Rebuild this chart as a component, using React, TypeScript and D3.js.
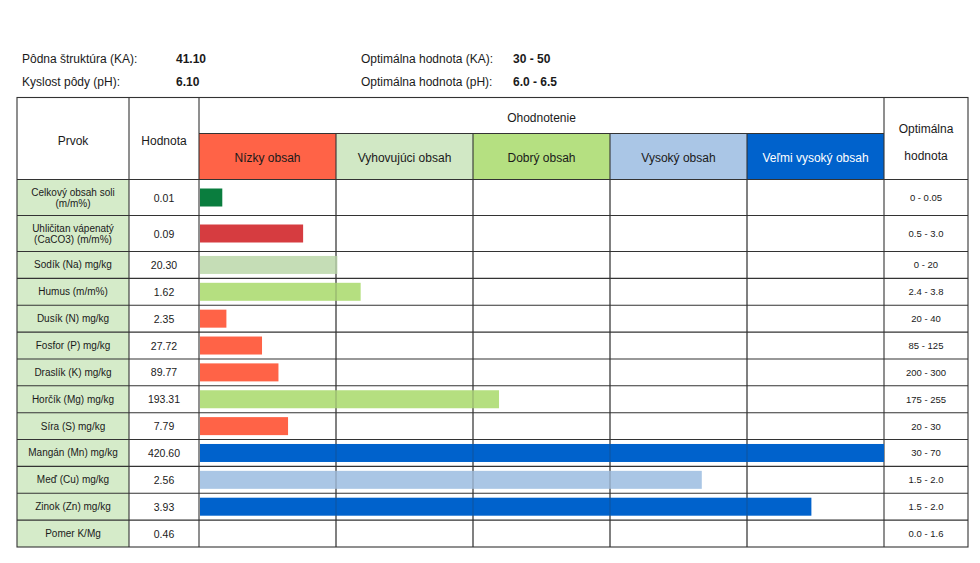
import React from "react";
import * as d3 from "d3";

const infoLabels = ["Pôdna štruktúra (KA):", "Kyslost pôdy (pH):"];
const infoValues = ["41.10", "6.10"];
const optimumLabels = ["Optimálna hodnota (KA):", "Optimálna hodnota (pH):"];
const optimumValues = ["30 - 50", "6.0 - 6.5"];

const categories = ["Nízky obsah", "Vyhovujúci obsah", "Dobrý obsah", "Vysoký obsah", "Veľmi vysoký obsah"];

const elements: string[][] = [
  ["Celkový obsah soli", "(m/m%)"],
  ["Uhličitan vápenatý", "(CaCO3) (m/m%)"],
  ["Sodík (Na) mg/kg"],
  ["Humus (m/m%)"],
  ["Dusík (N) mg/kg"],
  ["Fosfor (P) mg/kg"],
  ["Draslík (K) mg/kg"],
  ["Horčík (Mg) mg/kg"],
  ["Síra (S) mg/kg"],
  ["Mangán (Mn) mg/kg"],
  ["Meď (Cu) mg/kg"],
  ["Zinok (Zn) mg/kg"],
  ["Pomer K/Mg"],
];
const values = [0.01, 0.09, 20.3, 1.62, 2.35, 27.72, 89.77, 193.31, 7.79, 420.6, 2.56, 3.93, 0.46];
// bar end position on the rating scale (0 = start of "Nízky", 5 = end of "Veľmi vysoký")
const scores = [0.17, 0.76, 1.01, 1.18, 0.2, 0.46, 0.58, 2.19, 0.65, 5.0, 3.67, 4.47, 0];
const ratings = ["vyhovuje", "nevyhovuje", "Vyhovujúci obsah", "Dobrý obsah", "Nízky obsah", "Nízky obsah", "Nízky obsah", "Dobrý obsah", "Nízky obsah", "Veľmi vysoký obsah", "Vysoký obsah", "Veľmi vysoký obsah", "none"];
const optimal = ["0 - 0.05", "0.5 - 3.0", "0 - 20", "2.4 - 3.8", "20 - 40", "85 - 125", "200 - 300", "175 - 255", "20 - 30", "30 - 70", "1.5 - 2.0", "1.5 - 2.0", "0.0 - 1.6"];

const headerColors: Record<string, string> = {
  "Nízky obsah": "#FF6347",
  "Vyhovujúci obsah": "#D1E8C5",
  "Dobrý obsah": "#B5E081",
  "Vysoký obsah": "#AAC6E6",
  "Veľmi vysoký obsah": "#0062CC",
};
const barColors: Record<string, string> = {
  vyhovuje: "#0A7D3E",
  nevyhovuje: "#D63C40",
  "Nízky obsah": "#FF6347",
  "Vyhovujúci obsah": "#C5DDB6",
  "Dobrý obsah": "#B5DF80",
  "Vysoký obsah": "#AAC6E5",
  "Veľmi vysoký obsah": "#0062CC",
  none: "none",
};

const FONT = "'Liberation Sans', Arial, sans-serif";
const LINE = "#333";
const TEXT = "#1a1a1a";

export default function App() {
  const W = 980, H = 563;
  const tableLeft = 17, col1 = 129, col2 = 199, barRight = 884, tableRight = 968;
  const top = 97.5, hdrMid = 133.5, hdrBottom = 179.5, bottom = 547;

  const tall = 36;
  const nTall = elements.filter((e) => e.length > 1).length;
  const short = (bottom - hdrBottom - nTall * tall) / (elements.length - nTall);
  const heights = elements.map((e) => (e.length > 1 ? tall : short));
  const ys: number[] = [];
  heights.reduce((acc, h) => { ys.push(acc); return acc + h; }, hdrBottom);

  const xBand = d3.scaleBand<string>().domain(categories).range([col2, barRight]).padding(0);
  const x = d3.scaleLinear().domain([0, categories.length]).range([col2, barRight]);
  const barH = 18;

  const labelCx = (tableLeft + col1) / 2;
  const valueCx = (col1 + col2) / 2;
  const optCx = (barRight + tableRight) / 2;

  return (
    <svg width={W} height={H} style={{ position: "absolute", left: 0, top: 0, background: "#fff" }} fontFamily={FONT}>
      {/* info lines */}
      {infoLabels.map((l, i) => (
        <g key={l} fontSize={12} fill={TEXT}>
          <text x={22} y={63 + i * 23}>{l}</text>
          <text x={176} y={63 + i * 23} fontWeight="bold">{infoValues[i]}</text>
          <text x={361} y={63 + i * 23}>{optimumLabels[i]}</text>
          <text x={513} y={63 + i * 23} fontWeight="bold">{optimumValues[i]}</text>
        </g>
      ))}

      {/* category header cells */}
      {categories.map((c) => (
        <g key={c}>
          <rect x={xBand(c)} y={hdrMid} width={xBand.bandwidth()} height={hdrBottom - hdrMid} fill={headerColors[c]} />
          <text x={(xBand(c) as number) + xBand.bandwidth() / 2} y={162} textAnchor="middle" fontSize={12}
            fill={c === "Veľmi vysoký obsah" ? "#fff" : TEXT}>{c}</text>
        </g>
      ))}

      {/* label cells */}
      {elements.map((e, i) => (
        <rect key={"lc" + i} x={tableLeft} y={ys[i]} width={col1 - tableLeft} height={heights[i]} fill="#D5EBC9" />
      ))}

      {/* header texts */}
      <text x={labelCx} y={145} textAnchor="middle" fontSize={12} fill={TEXT}>Prvok</text>
      <text x={valueCx} y={145} textAnchor="middle" fontSize={12} fill={TEXT}>Hodnota</text>
      <text x={(col2 + barRight) / 2} y={122} textAnchor="middle" fontSize={12} fill={TEXT}>Ohodnotenie</text>
      <text x={optCx} y={133} textAnchor="middle" fontSize={12} fill={TEXT}>Optimálna</text>
      <text x={optCx} y={160} textAnchor="middle" fontSize={12} fill={TEXT}>hodnota</text>

      {/* grid lines */}
      <g stroke={LINE} strokeWidth={1.1} fill="none">
        <rect x={tableLeft} y={top} width={tableRight - tableLeft} height={bottom - top} />
        <line x1={col1} x2={col1} y1={top} y2={bottom} />
        <line x1={col2} x2={col2} y1={top} y2={bottom} />
        <line x1={barRight} x2={barRight} y1={top} y2={bottom} />
        <line x1={col2} x2={barRight} y1={hdrMid} y2={hdrMid} />
        {categories.slice(1).map((c) => (
          <line key={"v" + c} x1={xBand(c)} x2={xBand(c)} y1={hdrMid} y2={bottom} />
        ))}
        {ys.map((y, i) => (
          <line key={"h" + i} x1={tableLeft} x2={tableRight} y1={y} y2={y} />
        ))}
      </g>

      {/* bars */}
      {scores.map((s, i) =>
        s > 0 ? (
          <rect key={"b" + i} x={x(0) + 1} y={ys[i] + heights[i] / 2 - barH / 2} width={x(s) - x(0) - 1} height={barH}
            fill={barColors[ratings[i]]} />
        ) : null
      )}

      {/* faint category lines through bars */}
      <g stroke={LINE} strokeWidth={1} strokeOpacity={0.3}>
        {categories.slice(1).map((c) => (
          <line key={"o" + c} x1={xBand(c)} x2={xBand(c)} y1={hdrBottom} y2={bottom} />
        ))}
      </g>

      {/* row texts */}
      {elements.map((e, i) => {
        const cy = ys[i] + heights[i] / 2;
        return (
          <g key={"t" + i} fill={TEXT}>
            {e.map((line, j) => (
              <text key={j} x={labelCx} y={cy + 3.5 + (j - (e.length - 1) / 2) * 11} textAnchor="middle" fontSize={10}>{line}</text>
            ))}
            <text x={valueCx} y={cy + 4} textAnchor="middle" fontSize={10.5}>{values[i].toFixed(2)}</text>
            <text x={optCx} y={cy + 3.5} textAnchor="middle" fontSize={9.5}>{optimal[i]}</text>
          </g>
        );
      })}
    </svg>
  );
}
